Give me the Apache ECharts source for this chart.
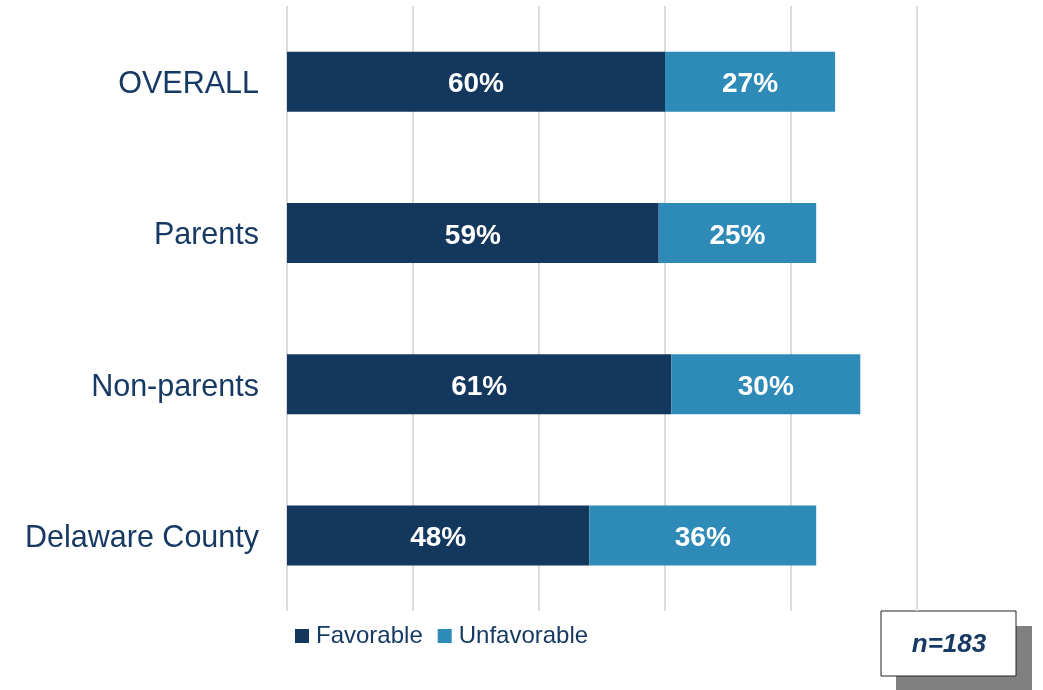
<!DOCTYPE html>
<html><head><meta charset="utf-8">
<script src="https://cdn.jsdelivr.net/npm/echarts@6/dist/echarts.min.js"></script>
<style>html,body{margin:0;padding:0;background:#fff}#c{width:1043px;height:690px}</style>
</head><body><div id="c"></div>
<script>
const categories = ['OVERALL', 'Parents', 'Non-parents', 'Delaware County'];
const favorable = [60, 59, 61, 48];
const unfavorable = [27, 25, 30, 36];
const xTicks = [0, 20, 40, 60, 80, 100];
const sampleNote = 'n=183';

const chart = echarts.init(document.getElementById('c'));
const labelOpt = {show: true, position: 'inside', offset: [0, 3], formatter: '{c}%', color: '#fff', fontFamily: 'Liberation Sans, Arial, sans-serif', fontWeight: 'bold', fontSize: 28};
chart.setOption({
  animation: false,
  grid: {left: 287, right: 126, top: 6, bottom: 79},
  xAxis: {type: 'value', min: xTicks[0], max: xTicks[xTicks.length-1], interval: 20,
    axisLabel: {show: false}, axisLine: {show: false}, axisTick: {show: false},
    splitLine: {show: true, lineStyle: {color: '#dcdcdc', width: 2}}},
  yAxis: {type: 'category', data: categories, inverse: true,
    axisLine: {show: false}, axisTick: {show: false},
    axisLabel: {margin: 28, formatter: v => '{a|' + v + '}',
      rich: {a: {color: '#173A64', fontSize: 30.5, padding: [6, 0, 0, 0], fontFamily: 'Liberation Sans, Arial, sans-serif'}}}},
  legend: {left: 295, top: 624, itemWidth: 14, itemHeight: 14, itemGap: 15,
    icon: 'rect', padding: 0,
    textStyle: {color: '#173A64', fontSize: 24, fontFamily: 'Liberation Sans, Arial, sans-serif', padding: [0,0,0,2]},
    data: ['Favorable', 'Unfavorable']},
  series: [
    {name: 'Favorable', type: 'bar', stack: 's', data: favorable, barWidth: 60,
      itemStyle: {color: '#14375E'}, label: labelOpt},
    {name: 'Unfavorable', type: 'bar', stack: 's', data: unfavorable, barWidth: 60,
      itemStyle: {color: '#2E8BB8'}, label: labelOpt}
  ],
  graphic: [
    {type: 'rect', shape: {x: 896, y: 626, width: 136, height: 64}, style: {fill: '#808080'}},
    {type: 'rect', shape: {x: 881, y: 611, width: 135, height: 65}, style: {fill: '#fff', stroke: '#222', lineWidth: 1}},
    {type: 'text', x: 949, y: 645, style: {text: sampleNote, fill: '#173A64', font: 'italic bold 26px "Liberation Sans", Arial, sans-serif', textAlign: 'center', textVerticalAlign: 'middle'}}
  ]
});
</script></body></html>
